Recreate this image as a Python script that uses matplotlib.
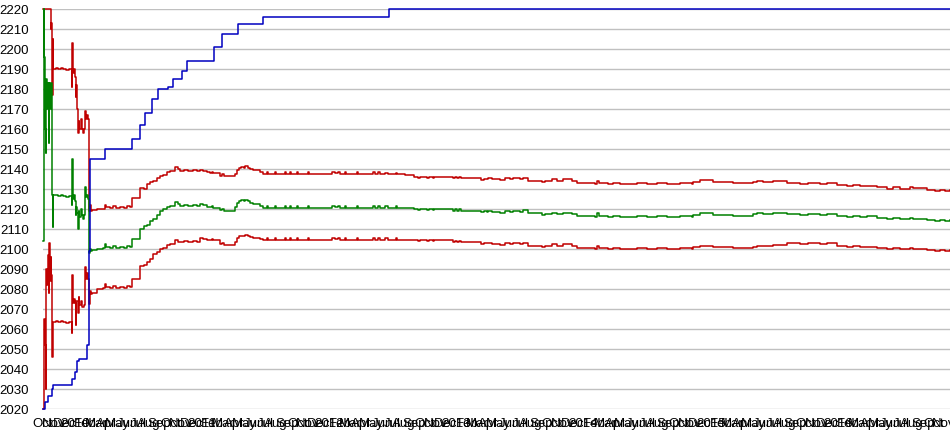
import matplotlib
matplotlib.use("Agg")
import matplotlib.pyplot as plt

# x is months since the first day on the chart (October of the first year)
FIRST_YEAR = 2009
MONTH_NAMES = ["Jan", "Feb", "Mar", "Apr", "May", "Jun",
               "Jul", "Aug", "Sep", "Oct", "Nov", "Dec"]
X_END = 85.57

# rating estimate and its upper / lower bound, all sampled at the same times
t_rating = [
    0.00, 0.05, 0.09, 0.14, 0.19, 0.24, 0.28, 0.33, 0.38, 0.47,
    0.52, 0.57, 0.61, 0.66, 0.73, 0.78, 0.85, 0.88, 0.92, 0.97,
    1.23, 1.42, 1.70, 1.89, 2.17, 2.45, 2.71, 2.78, 2.86, 2.92,
    3.02, 3.08, 3.14, 3.21, 3.27, 3.37, 3.44, 3.54, 3.65, 3.77,
    3.87, 3.99, 4.06, 4.12, 4.25, 4.37, 4.43, 4.53,
    4.62, 5.09, 5.66, 5.85, 5.99, 6.32, 6.60, 6.89, 7.26, 7.64,
    7.92, 8.21, 8.40, 9.15, 9.53, 9.81, 10.09, 10.38, 10.75, 11.04,
    11.32, 11.70, 11.98, 12.45, 12.74, 12.92, 13.30, 13.68, 14.15, 14.53,
    14.81, 15.09, 15.44, 15.75, 15.94, 16.08, 16.70, 16.89, 17.03, 18.11,
    18.30, 18.49, 18.68, 18.96, 19.10, 19.34, 19.53, 19.81, 20.47, 20.75,
    21.13, 21.23, 21.89, 21.98, 22.83, 22.92, 23.30, 23.44, 23.96, 24.06,
    25.00, 25.09, 27.26, 27.55, 27.83, 28.02, 28.49, 28.58, 29.62, 29.72,
    31.13, 31.32, 31.60, 31.79, 32.26, 32.55, 33.30, 33.40, 34.15, 35.00,
    35.38, 35.57, 36.23, 36.37, 36.79, 36.89, 38.68, 38.87, 39.06, 39.25,
    39.43, 40.00, 41.32, 41.60, 41.89,
    42.01, 42.33, 43.11, 43.58, 44.06, 44.37, 45.00, 45.31, 45.78, 47.05,
    47.36, 47.99, 48.46, 49.09, 49.88, 50.35, 52.08, 52.29, 52.48, 53.33,
    53.80, 54.43, 56.01, 56.95, 57.90, 58.84, 60.09, 61.20, 61.35, 61.98,
    63.24, 65.12, 66.39, 67.01, 67.33, 67.95, 68.90, 70.16, 71.42, 72.20,
    73.30, 73.93, 74.88, 75.82, 76.44, 77.08, 77.71, 78.65, 79.59, 80.22,
    80.85, 81.79, 82.10, 83.37, 84.15, 84.62, 85.09, 85.57,
]
rating_upper = [
    2220, 2220, 2220, 2220, 2220, 2220, 2220, 2220, 2220, 2220,
    2220, 2220, 2220, 2220, 2210, 2213, 2195, 2177, 2205, 2190,
    2190.5, 2190, 2190.5, 2190, 2189.5, 2190, 2181, 2203, 2188, 2190,
    2186, 2176, 2182, 2170, 2158, 2164, 2160, 2165, 2160, 2158,
    2160, 2169, 2165, 2167, 2165, 2119, 2122, 2119,
    2119.5, 2120, 2120, 2122, 2121, 2120.5, 2121.5, 2120.5, 2121, 2120.5,
    2121.5, 2121, 2125.5, 2130.5, 2130, 2132.5, 2133.5, 2134, 2135.5, 2136.5,
    2137, 2138.5, 2139, 2141, 2140, 2139, 2139.5, 2139, 2139.5, 2139,
    2139.5, 2139, 2138.5, 2138, 2138.5, 2137.8, 2136.5, 2137.3, 2136.3, 2137.5,
    2139.5, 2140.3, 2141.2, 2140.5, 2141.3, 2140.7, 2139.8, 2139.5, 2138.5, 2137.5,
    2138.3, 2137.5, 2138.3, 2137.5, 2138.3, 2137.5, 2138.3, 2137.5, 2138.3, 2137.5,
    2138.3, 2137.5, 2138.3, 2137.8, 2138.3, 2137.5, 2138.3, 2137.5, 2138.3, 2137.5,
    2138.5, 2137.5, 2138.5, 2137.5, 2138, 2137.5, 2138, 2137.5, 2137.2, 2136.2,
    2135.5, 2136.2, 2135.5, 2136.2, 2135.5, 2136.2, 2135.5, 2136, 2135.5, 2136,
    2135.5, 2135.3, 2134.5, 2135.2, 2135,
    2135.5, 2135, 2134.5, 2135.3, 2135, 2135.5, 2135, 2135.7, 2134.2, 2133.5,
    2134, 2134.8, 2134, 2134.8, 2134, 2133, 2132.5, 2134.2, 2133, 2132.5,
    2133, 2132.5, 2133, 2132.5, 2133, 2132.5, 2133, 2132.5, 2133.7, 2134.3,
    2133.7, 2132.8, 2133, 2133.7, 2134, 2133.7, 2134.2, 2133, 2132.5, 2133,
    2132.5, 2133, 2132, 2131.5, 2132, 2131.5, 2131.5, 2130.8, 2130.2, 2130.8,
    2130.2, 2130.8, 2130.3, 2129.7, 2129.2, 2129.7, 2129.2, 2129.7,
]
rating = [
    2104, 2220, 2171, 2196, 2160, 2148, 2166, 2185, 2170, 2183,
    2153, 2178, 2183, 2170, 2178, 2183, 2151, 2127, 2111, 2127,
    2127, 2126.5, 2127, 2126.5, 2126, 2126.5, 2122, 2145, 2125, 2127,
    2124, 2117, 2121, 2118, 2110, 2119, 2116, 2120, 2117, 2115,
    2117, 2131, 2126, 2127, 2125, 2098, 2100, 2099,
    2099.5, 2100, 2100.5, 2102.5, 2101, 2100.5, 2101.5, 2100.5, 2101, 2100.5,
    2101.5, 2101, 2105, 2110, 2111.5, 2112, 2114, 2115, 2117, 2119,
    2120, 2121, 2121.7, 2123.5, 2122.5, 2121.7, 2122, 2121.5, 2122, 2121.7,
    2122.5, 2122, 2121.2, 2121, 2121.5, 2120.7, 2119.3, 2120, 2119.2, 2120.8,
    2123, 2123.8, 2124.5, 2124, 2124.6, 2124, 2122.8, 2122.3, 2121.5, 2120.7,
    2121.5, 2120.7, 2121.5, 2120.7, 2121.5, 2120.7, 2121.5, 2120.7, 2121.5, 2120.7,
    2121.5, 2120.7, 2121.5, 2121, 2121.5, 2120.7, 2121.5, 2120.7, 2121.5, 2120.7,
    2121.7, 2120.7, 2121.7, 2120.7, 2121.3, 2120.7, 2121.3, 2120.7, 2120.5, 2120.2,
    2119.5, 2120.2, 2119.5, 2120.2, 2119.5, 2120.2, 2119.2, 2119.8, 2119.2, 2119.8,
    2119.2, 2119.2, 2118.3, 2119, 2118.7,
    2119.2, 2118.7, 2118.2, 2119, 2118.7, 2119.2, 2118.7, 2119.3, 2117.8, 2117.2,
    2117.5, 2118.2, 2117.5, 2118.2, 2117.5, 2116.7, 2116.2, 2117.8, 2116.7, 2116.2,
    2116.7, 2116.2, 2116.7, 2116.2, 2116.7, 2116.2, 2116.7, 2116.2, 2117.2, 2117.8,
    2117.2, 2116.3, 2116.7, 2117.5, 2117.8, 2117.7, 2118, 2117.7, 2117.2, 2117.7,
    2117.2, 2117.7, 2116.7, 2116.2, 2116.7, 2116.2, 2116.5, 2115.3, 2114.8, 2115.3,
    2114.8, 2115.3, 2115, 2114.5, 2114, 2114.5, 2114, 2114.5,
]
rating_lower = [
    2020, 2043, 2030, 2065, 2052, 2030, 2057, 2090, 2082, 2097,
    2078, 2100, 2103, 2084, 2096, 2087, 2078, 2046, 2062, 2063.5,
    2064, 2063.5, 2064, 2063.5, 2063, 2063.5, 2058, 2087, 2073, 2075,
    2073, 2062, 2074, 2074, 2068, 2076, 2072, 2074, 2071, 2071,
    2072, 2091, 2085, 2088, 2085, 2072.5, 2079, 2077.5,
    2078, 2080, 2080.5, 2082.5, 2081, 2080.5, 2081.5, 2080.5, 2081, 2080.5,
    2081.5, 2081, 2085, 2091.5, 2092, 2093.3, 2095, 2097.5, 2098.5, 2100,
    2100.5, 2102, 2102.5, 2104.7, 2103.5, 2103.7, 2104, 2103.5, 2104, 2103.7,
    2105.5, 2105, 2104.7, 2104.5, 2105, 2104.3, 2102.5, 2103, 2102, 2103.5,
    2105.5, 2106.3, 2106.7, 2106.3, 2106.8, 2106.3, 2105.8, 2105.5, 2105, 2104.7,
    2105.5, 2104.7, 2105.5, 2104.7, 2105.5, 2104.7, 2105.5, 2104.7, 2105.5, 2104.7,
    2105.5, 2104.7, 2105.5, 2105, 2105.5, 2104.7, 2105.5, 2104.7, 2105.5, 2104.7,
    2105.7, 2104.7, 2105.7, 2104.7, 2105.3, 2104.7, 2105.3, 2104.7, 2104.5, 2104.4,
    2103.8, 2104.4, 2103.8, 2104.4, 2103.8, 2104.4, 2103.5, 2104, 2103.5, 2104,
    2103.5, 2103.3, 2102.5, 2103.2, 2102.8,
    2103, 2102.5, 2102, 2102.8, 2102.5, 2103, 2102.5, 2103.2, 2101.7, 2101.2,
    2101.7, 2102.3, 2101.7, 2102.3, 2101.7, 2100.3, 2099.8, 2101.5, 2100.3, 2099.8,
    2100.3, 2099.8, 2100.3, 2099.8, 2100.3, 2099.8, 2100.3, 2099.8, 2101, 2101.5,
    2101, 2100.3, 2100.3, 2101, 2101.3, 2101.3, 2101.8, 2102.8, 2102.3, 2102.8,
    2102.3, 2102.8, 2101.3, 2100.8, 2101.3, 2100.8, 2101, 2100.3, 2099.8, 2100.3,
    2099.8, 2100.3, 2100, 2099.7, 2099.2, 2099.7, 2099.2, 2099.7,
]

# highest rating so far
t_peak = [0.00, 0.19, 0.50, 0.82, 0.97, 2.76, 3.02, 3.24, 3.42, 4.12,
          4.37, 4.47, 5.85, 8.40, 9.15, 9.62, 10.25, 10.88, 11.82, 12.26,
          13.11, 13.56, 16.13, 16.86, 18.40, 20.75, 32.64, 85.57]
peak = [2020, 2023.5, 2026.5, 2030, 2032, 2035, 2038.5, 2044, 2045, 2052,
        2099, 2145, 2150, 2155, 2162, 2168, 2175, 2180, 2181, 2185,
        2189, 2194, 2201, 2207.5, 2212.5, 2216, 2220, 2220]

RED = "#c00000"
GREEN = "#008000"
BLUE = "#0000c0"

plt.rcParams["font.family"] = ["Liberation Sans", "DejaVu Sans"]

fig = plt.figure(figsize=(9.5, 4.35), dpi=100)
ax = fig.add_axes([43 / 950, 25 / 435, 907 / 950, 400 / 435])

lw = 1.1
ax.step(t_rating, rating_upper, where="post", color=RED, lw=lw, clip_on=False)
ax.step(t_rating, rating, where="post", color=GREEN, lw=lw, clip_on=False)
ax.step(t_rating, rating_lower, where="post", color=RED, lw=lw, clip_on=False)
ax.step(t_peak, peak, where="post", color=BLUE, lw=lw, clip_on=False)

ax.set_xlim(0, X_END)
ax.set_ylim(2020, 2220)
ax.set_yticks(range(2020, 2221, 10))

# one label per month, the year number in place of January
ticks = list(range(0, 86))
labels = []
for m in ticks:
    idx = (9 + m) % 12
    year = FIRST_YEAR + (9 + m) // 12
    labels.append(str(year) if idx == 0 else MONTH_NAMES[idx])
ax.set_xticks(ticks)
ax.set_xticklabels(labels)

ax.yaxis.grid(True, color="#c0c0c0", lw=1.0)
ax.set_axisbelow(True)
for side in ax.spines.values():
    side.set_visible(False)
ax.tick_params(axis="y", length=0, pad=10, labelsize=9.5)
ax.tick_params(axis="x", length=0, pad=6, labelsize=9.5)

fig.savefig("out.png", dpi=100)
